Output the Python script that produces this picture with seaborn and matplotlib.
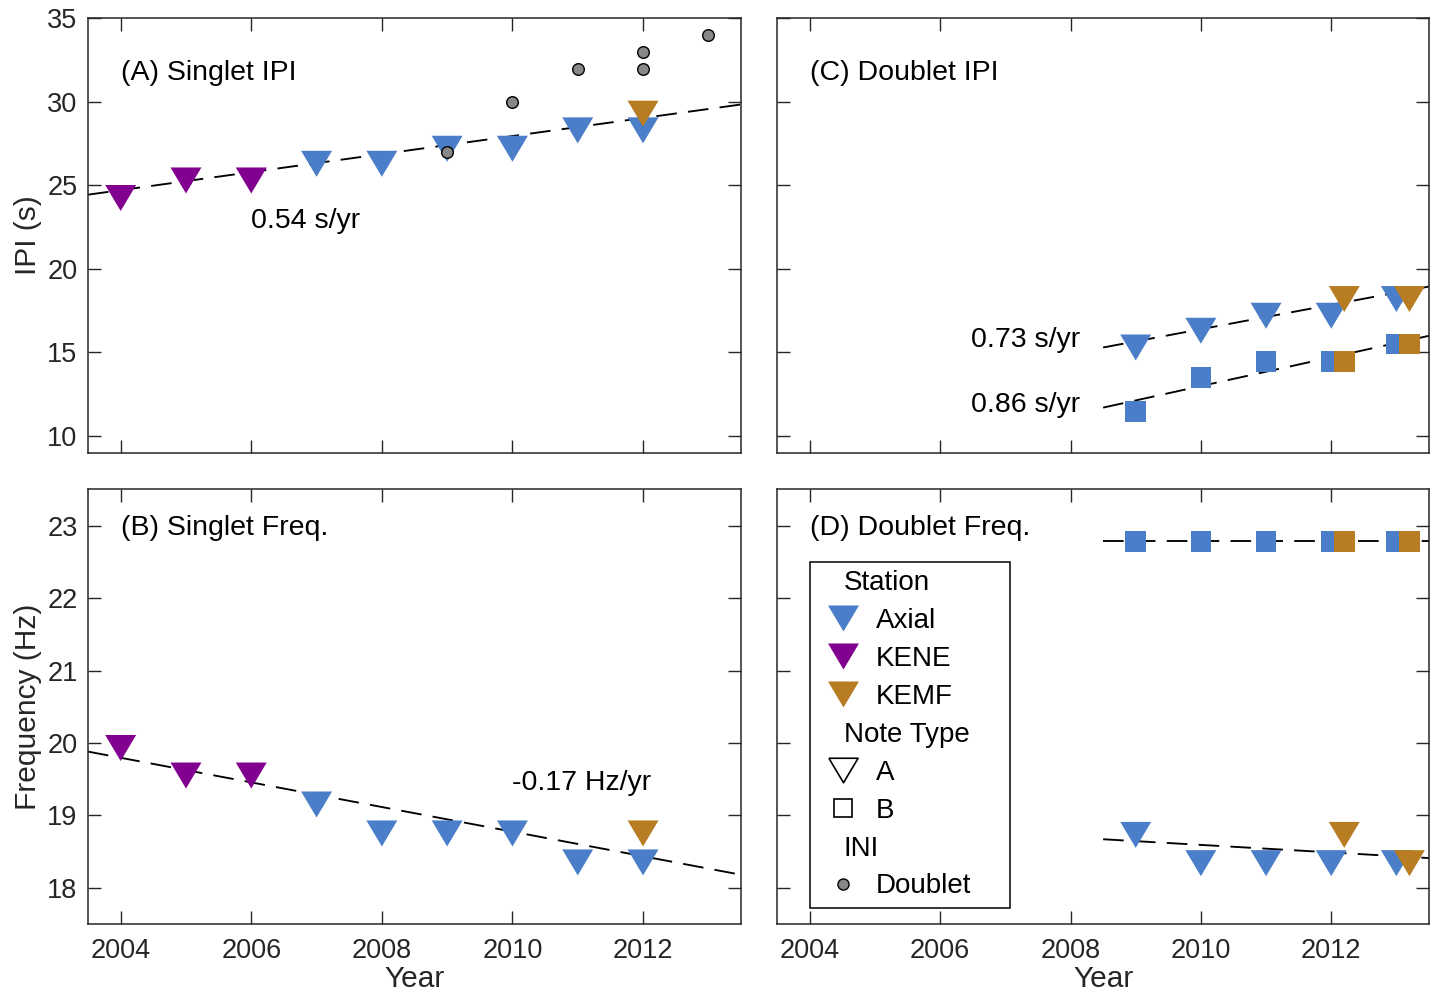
import numpy as np
import pandas as pd
import matplotlib
matplotlib.use("Agg")
import matplotlib.pyplot as plt
import seaborn as sns
from matplotlib.lines import Line2D

# Data
singlet_years = [2004, 2005, 2006, 2007, 2008, 2009, 2010, 2011, 2012, 2012]
singlet_station = ["KENE", "KENE", "KENE", "Axial", "Axial", "Axial", "Axial", "Axial", "Axial", "KEMF"]
singlet_ipi = [24.25, 25.3, 25.3, 26.3, 26.3, 27.2, 27.2, 28.3, 28.3, 29.3]
singlet_freq = [19.93, 19.55, 19.55, 19.15, 18.75, 18.75, 18.75, 18.35, 18.35, 18.75]

ini_years = [2009, 2010, 2011, 2012, 2012, 2013]
ini_ipi = [27.0, 30.0, 32.0, 32.0, 33.0, 34.0]

doublet_years = [2009, 2010, 2011, 2012, 2013, 2012.2, 2013.2]
doublet_station = ["Axial", "Axial", "Axial", "Axial", "Axial", "KEMF", "KEMF"]
doublet_ipi_a = [15.3, 16.3, 17.2, 17.2, 18.2, 18.2, 18.2]
doublet_ipi_b = [11.45, 13.5, 14.45, 14.45, 15.5, 14.45, 15.5]
doublet_freq_a = [18.73, 18.34, 18.34, 18.34, 18.34, 18.73, 18.34]
doublet_freq_b = [22.78, 22.78, 22.78, 22.78, 22.78, 22.78, 22.78]

# trend lines: (x start, x end, y at start, slope per year)
trend_singlet_ipi = (2003.5, 2013.5, 24.45, 0.54)
trend_singlet_freq = (2003.5, 2013.5, 19.88, -0.17)
trend_doublet_ipi_a = (2008.5, 2013.5, 15.3, 0.73)
trend_doublet_ipi_b = (2008.5, 2013.5, 11.7, 0.86)
trend_doublet_freq_a = (2008.5, 2013.5, 18.67, -0.052)
trend_doublet_freq_b = (2008.5, 2013.5, 22.79, 0.0)

year_ticks = [2004, 2006, 2008, 2010, 2012]
ipi_ticks = [10, 15, 20, 25, 30, 35]
freq_ticks = [18, 19, 20, 21, 22, 23]

palette = {"Axial": "#4a7ec8", "KENE": "#82008f", "KEMF": "#b87d22"}
TRI = [(-1, 0.84), (1, 0.84), (0, -0.84), (-1, 0.84)]
AXC = "#262626"

sns.set_theme(style="ticks")
plt.rcParams["font.family"] = ["Liberation Sans", "DejaVu Sans"]
plt.rcParams.update({
    "xtick.direction": "in", "ytick.direction": "in",
    "xtick.top": True, "ytick.right": True,
    "xtick.major.size": 9.4, "ytick.major.size": 9.4,
    "xtick.major.width": 1.0, "ytick.major.width": 1.0,
    "xtick.major.pad": 10, "ytick.major.pad": 7.5,
    "axes.linewidth": 1.1, "axes.edgecolor": AXC,
    "xtick.color": AXC, "ytick.color": AXC,
    "xtick.labelsize": 19.5, "ytick.labelsize": 19.5,
    "axes.labelsize": 21.5, "axes.labelcolor": AXC,
    "text.color": "black",
})

fig = plt.figure(figsize=(14.36, 9.93), dpi=100)
axA = fig.add_axes([0.0613, 0.5441, 0.4547, 0.4373])
axB = fig.add_axes([0.0613, 0.0695, 0.4547, 0.4376])
axC = fig.add_axes([0.5413, 0.5441, 0.4538, 0.4373])
axD = fig.add_axes([0.5413, 0.0695, 0.4538, 0.4376])


def trend(ax, t):
    x0, x1, y0, slope = t
    xs = np.array([x0, x1])
    ax.plot(xs, y0 + slope * (xs - x0), color="black", lw=1.35,
            linestyle=(0, (11, 6)), zorder=2)


def points(ax, years, values, stations, marker, s):
    df = pd.DataFrame({"year": years, "value": values, "station": stations})
    sns.scatterplot(data=df, x="year", y="value", hue="station", palette=palette,
                    marker=marker, s=s, linewidth=0, legend=False, ax=ax, zorder=3)


# (A) Singlet IPI
trend(axA, trend_singlet_ipi)
points(axA, singlet_years, singlet_ipi, singlet_station, TRI, 497)
sns.scatterplot(x=ini_years, y=ini_ipi, color="#888888", edgecolor="black",
                linewidth=1.0, s=70, ax=axA, zorder=4, legend=False)
axA.text(2004, 31.75, "(A) Singlet IPI", fontsize=20.5, va="center", color="black")
axA.text(2006, 22.85, "0.54 s/yr", fontsize=20.5, va="center", color="black")

# (B) Singlet Freq.
trend(axB, trend_singlet_freq)
points(axB, singlet_years, singlet_freq, singlet_station, TRI, 497)
axB.text(2004, 22.97, "(B) Singlet Freq.", fontsize=20.5, va="center", color="black")
axB.text(2010, 19.45, "-0.17 Hz/yr", fontsize=20.5, va="center", color="black")

# (C) Doublet IPI
trend(axC, trend_doublet_ipi_a)
trend(axC, trend_doublet_ipi_b)
points(axC, doublet_years, doublet_ipi_b, doublet_station, "s", 222)
points(axC, doublet_years, doublet_ipi_a, doublet_station, TRI, 497)
axC.text(2004, 31.75, "(C) Doublet IPI", fontsize=20.5, va="center", color="black")
axC.text(2008.15, 15.75, "0.73 s/yr", fontsize=20.5, va="center", ha="right", color="black")
axC.text(2008.15, 11.85, "0.86 s/yr", fontsize=20.5, va="center", ha="right", color="black")

# (D) Doublet Freq.
trend(axD, trend_doublet_freq_a)
trend(axD, trend_doublet_freq_b)
points(axD, doublet_years, doublet_freq_b, doublet_station, "s", 222)
points(axD, doublet_years, doublet_freq_a, doublet_station, TRI, 497)
axD.text(2004, 22.97, "(D) Doublet Freq.", fontsize=20.5, va="center", color="black")

for ax in (axA, axB, axC, axD):
    ax.set_xlim(2003.5, 2013.5)
    ax.set_xticks(year_ticks)
    ax.set_xlabel("")
    ax.set_ylabel("")
    for sp in ax.spines.values():
        sp.set_visible(True)
for ax in (axA, axC):
    ax.set_ylim(9, 35)
    ax.set_yticks(ipi_ticks)
    ax.tick_params(labelbottom=False)
for ax in (axB, axD):
    ax.set_ylim(17.5, 23.5)
    ax.set_yticks(freq_ticks)
    ax.set_xlabel("Year", labelpad=0.5)
for ax in (axC, axD):
    ax.tick_params(labelleft=False)
axA.set_ylabel("IPI (s)", labelpad=4)
axB.set_ylabel("Frequency (Hz)", labelpad=4)

# legend with section titles
blank = Line2D([], [], linestyle="none")
handles = [
    blank,
    Line2D([], [], linestyle="none", marker=TRI, markersize=22.3, color=palette["Axial"], markeredgewidth=0),
    Line2D([], [], linestyle="none", marker=TRI, markersize=22.3, color=palette["KENE"], markeredgewidth=0),
    Line2D([], [], linestyle="none", marker=TRI, markersize=22.3, color=palette["KEMF"], markeredgewidth=0),
    blank,
    Line2D([], [], linestyle="none", marker=TRI, markersize=21, markerfacecolor="none",
           markeredgecolor="black", markeredgewidth=1.2),
    Line2D([], [], linestyle="none", marker="s", markersize=13.5, markerfacecolor="none",
           markeredgecolor="black", markeredgewidth=1.2),
    blank,
    Line2D([], [], linestyle="none", marker="o", markersize=8, markerfacecolor="#888888",
           markeredgecolor="black", markeredgewidth=1.0),
]
labels = ["Station", "Axial", "KENE", "KEMF", "Note Type", "A", "B", "INI", "Doublet"]
titles = {"Station", "Note Type", "INI"}
leg = axD.legend(handles, labels, loc="upper left", bbox_to_anchor=(0.0506, 0.834),
                 borderaxespad=0, fontsize=20, frameon=True, fancybox=False,
                 framealpha=1, edgecolor="black", borderpad=0.3, handlelength=1.73,
                 handletextpad=0.32, labelspacing=0.43)
leg.get_frame().set_linewidth(1.1)
for t in leg.get_texts():
    t.set_color("black")
    if t.get_text() in titles:
        t.set_x(-32)

fig.savefig("out.png", dpi=100)
